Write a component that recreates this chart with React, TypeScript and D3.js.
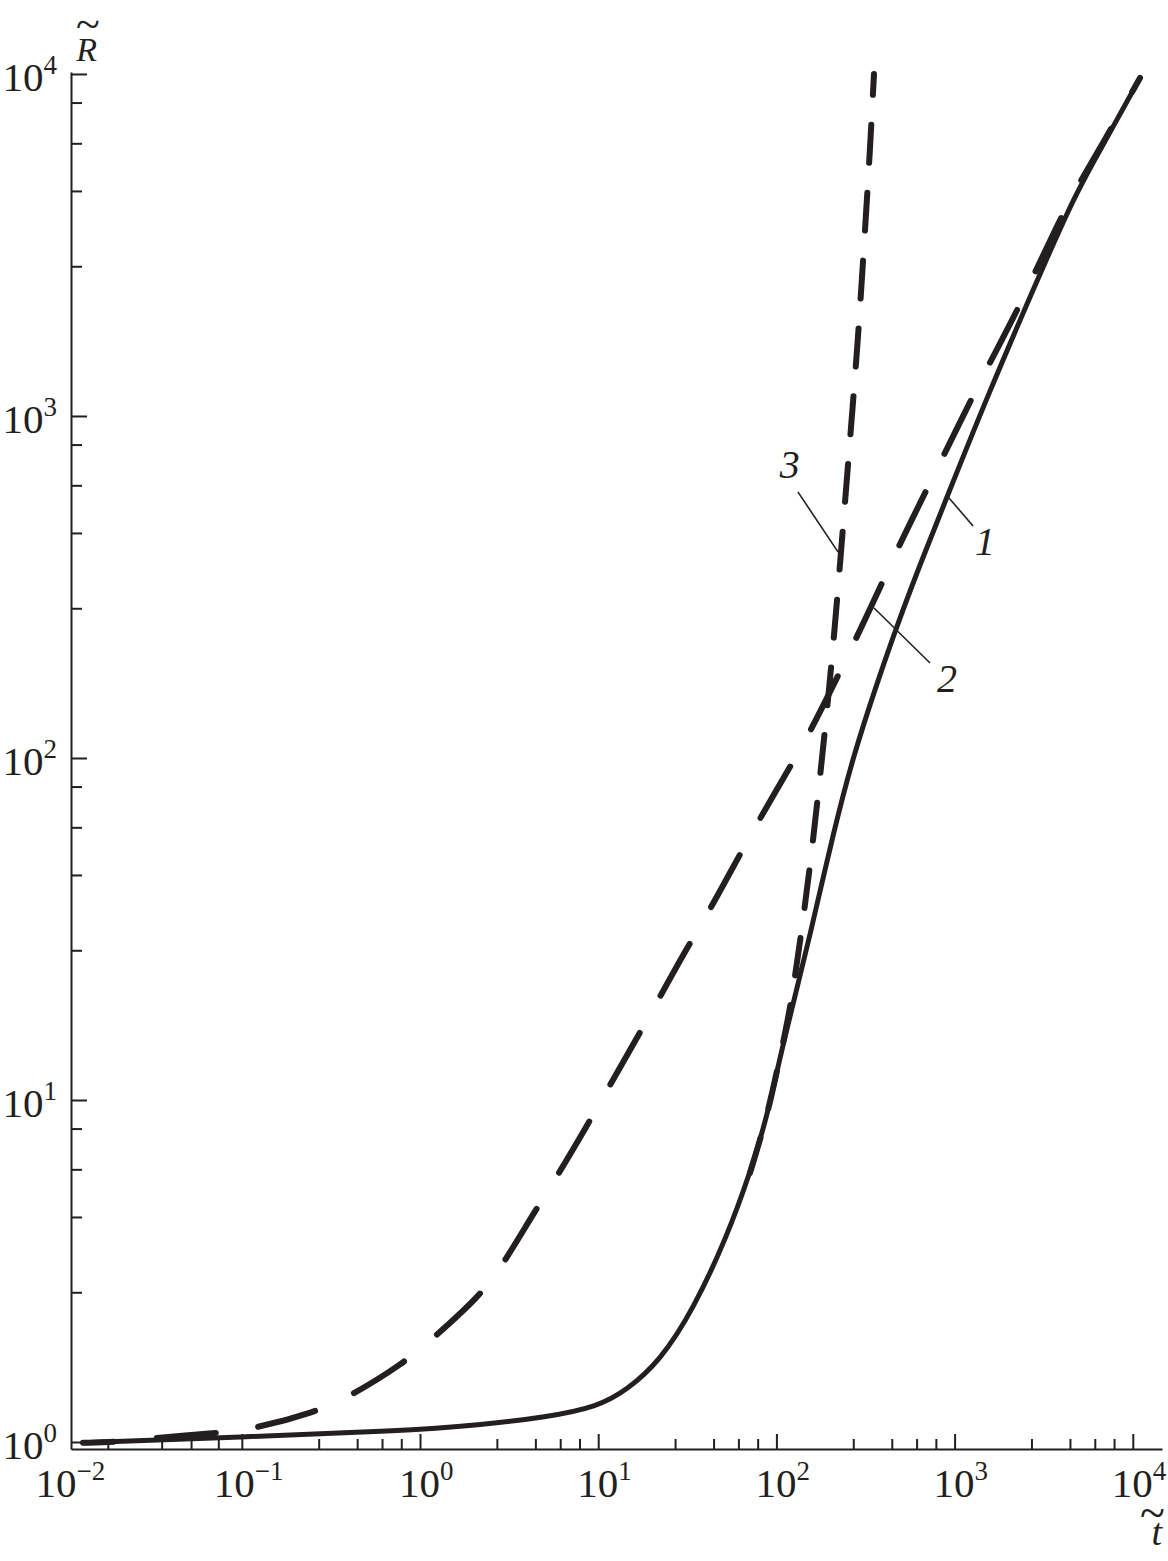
import React, { useEffect, useRef } from 'react';
import * as d3 from 'd3';

const W = 1168;
const H = 1561;

// [t, R]
const curve1: [number, number][] = [
  [0.01285, 0.995], [0.0977, 1.034], [0.772, 1.077], [2.17, 1.121], [5.16, 1.183], [9.85, 1.266],
  [14.51, 1.419], [22.2, 1.725], [34.0, 2.43], [52.8, 3.98], [71.1, 6.12], [88.6, 8.92],
  [104.8, 13.36], [125.6, 19.61], [152.4, 29.4], [210.5, 61.6], [269, 100.7], [367, 165.7],
  [494, 258], [665, 387], [907, 580], [1520, 1136], [2754, 2335], [4739, 4458], [7166, 6501],
  [10975, 9734],
];

const curve2: [number, number][] = [
  [0.01285, 0.995], [0.01994, 1.0], [0.03133, 1.027], [0.0726, 1.062], [0.1156, 1.091],
  [0.2609, 1.224], [0.3995, 1.354], [0.813, 1.702], [1.153, 1.987], [2.17, 2.673], [2.886, 3.27],
  [4.42, 4.74], [5.72, 5.84], [8.77, 8.51], [11.06, 10.55], [16.73, 15.39], [21.1, 19.09],
  [31.9, 28.2], [40.8, 34.75], [60.9, 51.0], [75.9, 62.8], [116.2, 92.2], [148.5, 114.4],
  [216, 169.1], [265.6, 211.2], [381, 314], [463, 395], [665, 580], [828, 729], [1189, 1069],
  [1481, 1345], [2183, 1974], [2649, 2448], [3804, 3642], [4617, 4458], [7166, 6588],
  [10975, 9734],
];

const curve3: [number, number][] = [
  [71.1, 6.12], [88.6, 8.92], [104.8, 13.36], [119.2, 18.3], [133.9, 27.5], [156.4, 50.3],
  [182.6, 105.5], [207.8, 207], [233.4, 434], [258.8, 851], [287.1, 1668], [314.3, 3500],
  [335.2, 6000], [352.9, 10000],
];

const xMajorTicks = [0.01, 0.1, 1, 10, 100, 1000, 10000];
const xTickLabels = ['\u22122', '\u22121', '0', '1', '2', '3', '4'];
const xFirstDecadeMinor = [0.0177, 0.0355, 0.0519, 0.0738];
const xMinorFactors = [2.7, 4.44, 6.12, 7.85];
const yMajorTicks = [1, 10, 100, 1000, 10000];
const yTickLabels = ['0', '1', '2', '3', '4'];
const yMinorFactors = [2.74, 4.55, 6.27, 8.25];

// curve numbers and their leader lines, in data units
const curveLabels = [
  { text: '1', t: 1481, R: 392 },
  { text: '2', t: 907, R: 156 },
  { text: '3', t: 119, R: 659 },
];
const leaders = [
  { from: [930, 576], to: [1269, 477] },
  { from: [353, 274.5], to: [728, 189.6] },
  { from: [132, 600], to: [222, 400] },
];

const ink = '#231f20';
const serif = "'Liberation Serif', 'Times New Roman', serif";

export default function App() {
  const svgRef = useRef<SVGSVGElement>(null);

  useEffect(() => {
    const svg = d3.select(svgRef.current);
    svg.selectAll('*').remove();

    const x = d3.scaleLog().domain([0.011, 14585]).range([71, 1162]);
    const y = d3.scaleLog().domain([0.954, 10134]).range([1449, 72]);

    const xMinor = xFirstDecadeMinor.concat(
      [0.1, 1, 10, 100, 1000].flatMap(d => xMinorFactors.map(f => d * f))
    );
    const yMinor = [1, 10, 100, 1000].flatMap(d => yMinorFactors.map(f => d * f));

    const styleAxis = (g: any) => {
      g.selectAll('path').attr('stroke', ink).attr('stroke-width', 2);
      g.selectAll('line').attr('stroke', ink).attr('stroke-width', 2);
      g.selectAll('text').remove();
    };

    // y axis, ticks pointing inward
    svg.append('g').attr('transform', 'translate(71,0)')
      .call(d3.axisRight(y).tickValues(yMajorTicks).tickSize(16).tickSizeOuter(0).tickFormat(() => ''))
      .call(styleAxis);
    svg.append('g').attr('transform', 'translate(71,0)')
      .call(d3.axisRight(y).tickValues(yMinor).tickSize(11).tickSizeOuter(0).tickFormat(() => ''))
      .call(styleAxis)
      .call(g => g.select('.domain').remove());

    // x axis
    const xMajorIn = xMajorTicks.filter(v => v >= x.domain()[0]);
    svg.append('g').attr('transform', 'translate(0,1449)')
      .call(d3.axisTop(x).tickValues(xMajorIn).tickSize(15).tickSizeOuter(0).tickFormat(() => ''))
      .call(styleAxis);
    svg.append('g').attr('transform', 'translate(0,1449)')
      .call(d3.axisTop(x).tickValues(xMinor).tickSize(10).tickSizeOuter(0).tickFormat(() => ''))
      .call(styleAxis)
      .call(g => g.select('.domain').remove());

    // tick labels
    xMajorTicks.forEach((v, i) => {
      const neg = xTickLabels[i].startsWith('\u2212');
      const t = svg.append('text')
        .attr('x', x(v) - 21 - (neg ? 7 : 0))
        .attr('y', 1497)
        .attr('font-family', serif)
        .attr('font-size', 41)
        .attr('fill', ink);
      t.append('tspan').text('10');
      t.append('tspan').attr('font-size', 27).attr('dy', -17).text(xTickLabels[i]);
    });
    yMajorTicks.forEach((v, i) => {
      const t = svg.append('text')
        .attr('x', 57)
        .attr('y', y(v) + 17)
        .attr('text-anchor', 'end')
        .attr('font-family', serif)
        .attr('font-size', 41)
        .attr('fill', ink);
      t.append('tspan').text('10');
      t.append('tspan').attr('font-size', 27).attr('dy', -17).text(yTickLabels[i]);
    });

    // axis titles (tilde accent in the same text element)
    const rt = svg.append('text').attr('x', 76).attr('y', 61).attr('font-family', serif)
      .attr('fill', ink);
    rt.append('tspan').attr('font-style', 'italic').attr('font-size', 34).text('R');
    rt.append('tspan').attr('font-size', 44).attr('dx', -21).attr('dy', -22).text('~');

    const tt = svg.append('text').attr('x', 1140).attr('y', 1545).attr('font-family', serif)
      .attr('fill', ink);
    tt.append('tspan').attr('font-style', 'italic').attr('font-size', 38).text('t');
    tt.append('tspan').attr('font-size', 46).attr('dx', -22).attr('dy', -17).text('~');

    // curves
    const line = d3.line<[number, number]>()
      .x(d => x(d[0]))
      .y(d => y(d[1]))
      .curve(d3.curveBasis);

    svg.append('path').attr('d', line(curve1)).attr('fill', 'none')
      .attr('stroke', ink).attr('stroke-width', 5).attr('stroke-linecap', 'round');

    svg.append('path').attr('d', line(curve2)).attr('fill', 'none')
      .attr('stroke', ink).attr('stroke-width', 6).attr('stroke-linecap', 'round')
      .attr('stroke-dasharray', '59 43').attr('stroke-dashoffset', 28);

    const p3 = svg.append('path').attr('d', line(curve3)).attr('fill', 'none')
      .attr('stroke', ink).attr('stroke-width', 6).attr('stroke-linecap', 'round')
      .attr('stroke-dasharray', '38 30');
    const L3 = (p3.node() as SVGPathElement).getTotalLength();
    p3.attr('stroke-dashoffset', (((21 - L3) % 68) + 68) % 68);

    // leaders and curve numbers
    leaders.forEach(l => {
      svg.append('line')
        .attr('x1', x(l.from[0])).attr('y1', y(l.from[1]))
        .attr('x2', x(l.to[0])).attr('y2', y(l.to[1]))
        .attr('stroke', ink).attr('stroke-width', 1.6);
    });
    curveLabels.forEach(c => {
      svg.append('text').attr('x', x(c.t)).attr('y', y(c.R)).attr('text-anchor', 'middle')
        .attr('font-family', serif).attr('font-style', 'italic').attr('font-size', 40)
        .attr('fill', ink).text(c.text);
    });
  }, []);

  return (
    <svg
      ref={svgRef}
      width={W}
      height={H}
      style={{ position: 'absolute', left: 0, top: 0, background: '#fff' }}
    />
  );
}
